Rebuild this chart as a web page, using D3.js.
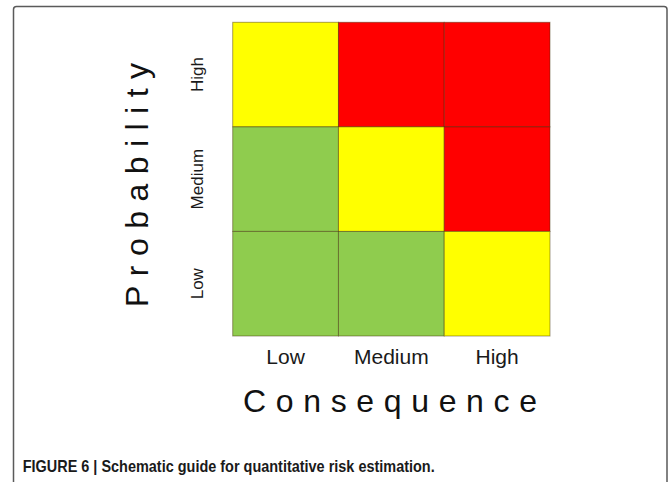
<!DOCTYPE html>
<html>
<head>
<meta charset="utf-8">
<script src="https://cdn.jsdelivr.net/npm/d3@7"></script>
<style>
  html, body { margin: 0; padding: 0; background: #fff; }
  text { font-family: "Liberation Sans", Arial, Helvetica, sans-serif; }
</style>
</head>
<body>
<div id="chart"></div>
<script>
var consequence = ['Low', 'Medium', 'High']
var probability = ['High', 'Medium', 'Low']
// risk level per cell, rows follow probability (top to bottom), columns follow consequence
var riskHigh = ['medium', 'high', 'high']
var riskMedium = ['low', 'medium', 'high']
var riskLow = ['low', 'low', 'medium']
var riskLevels = ['low', 'medium', 'high']
var riskColors = ['#8fcc4e', '#ffff00', '#ff0000']
var caption = 'FIGURE 6 | Schematic guide for quantitative risk estimation.'

var width = 669
var height = 482

function go () {
  var svg = d3.select('#chart').append('svg')
    .attr('width', width).attr('height', height)

  // frame around the figure
  svg.append('rect')
    .attr('x', 13.5).attr('y', 6.5)
    .attr('width', 653.5).attr('height', 520)
    .attr('rx', 3)
    .style('fill', 'none')
    .style('stroke', '#5a5a5a')
    .style('stroke-width', 1.5)

  var x = d3.scaleBand().domain(consequence).range([232.7, 550])
  var y = d3.scaleBand().domain(probability).range([22.3, 336])
  var color = d3.scaleOrdinal().domain(riskLevels).range(riskColors)

  var rows = [riskHigh, riskMedium, riskLow]
  var cells = []
  probability.forEach(function(p, i) {
    consequence.forEach(function(c, j) {
      cells.push({ prob: p, cons: c, level: rows[i][j] })
    })
  })

  svg.append('g').selectAll('rect')
    .data(cells)
    .enter()
    .append('rect')
    .attr('x', d => x(d.cons))
    .attr('y', d => y(d.prob))
    .attr('width', x.bandwidth())
    .attr('height', y.bandwidth())
    .style('fill', d => color(d.level))
    .style('stroke', 'rgba(60,40,0,0.45)')
    .style('stroke-width', 1)

  var xAxis = svg.append('g')
    .attr('transform', 'translate(0,336)')
    .call(d3.axisBottom(x).tickSize(0))
  xAxis.select('.domain').remove()
  xAxis.selectAll('text')
    .attr('y', 28.3).attr('dy', 0)
    .style('font-size', '21px')
    .style('fill', '#1a1a1a')

  var yAxis = svg.append('g')
    .attr('transform', 'translate(232.7,0)')
    .call(d3.axisLeft(y).tickSize(0))
  yAxis.select('.domain').remove()
  yAxis.selectAll('text')
    .attr('transform', 'rotate(-90)')
    .attr('x', 0).attr('y', -29.4).attr('dy', 0)
    .attr('text-anchor', 'middle')
    .style('font-size', '17px')
    .style('fill', '#1a1a1a')

  svg.append('text')
    .attr('transform', 'translate(148,185) rotate(-90)')
    .attr('text-anchor', 'middle')
    .attr('textLength', 244)
    .attr('lengthAdjust', 'spacing')
    .style('font-size', '32px')
    .style('fill', '#111')
    .text('Probability')

  svg.append('text')
    .attr('x', 390).attr('y', 412)
    .attr('text-anchor', 'middle')
    .attr('textLength', 294)
    .attr('lengthAdjust', 'spacing')
    .style('font-size', '32px')
    .style('fill', '#111')
    .text('Consequence')

  svg.append('text')
    .attr('x', 22.7).attr('y', 471.5)
    .attr('textLength', 412)
    .attr('lengthAdjust', 'spacingAndGlyphs')
    .style('font-size', '16.5px')
    .style('font-weight', 'bold')
    .style('fill', '#1a1a1a')
    .text(caption)
}

document.addEventListener('DOMContentLoaded', go)
</script>
</body>
</html>
